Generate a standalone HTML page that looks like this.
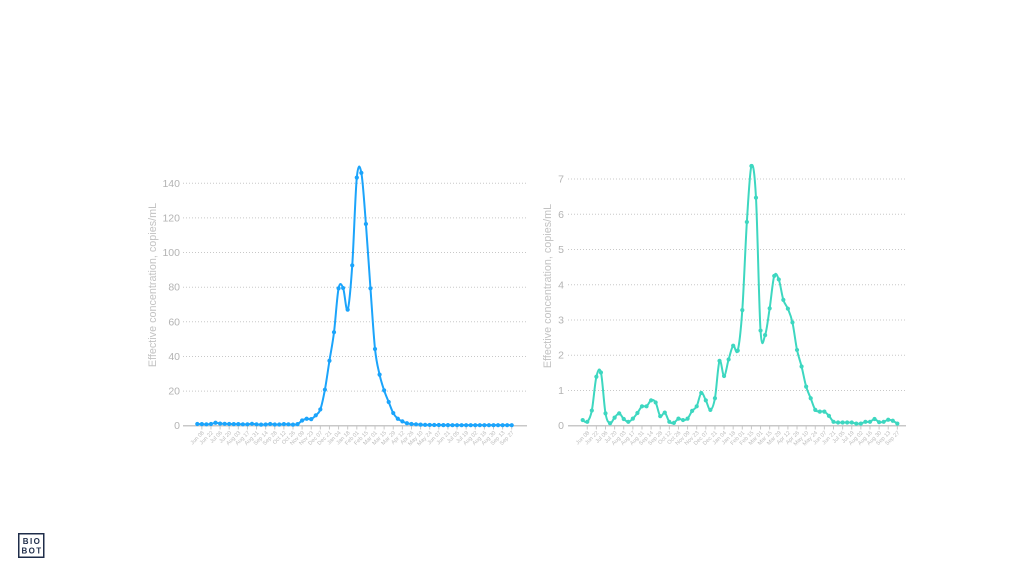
<!DOCTYPE html>
<html>
<head>
<meta charset="utf-8">
<style>
  html,body{margin:0;padding:0;background:#fff;}
  body{width:1024px;height:576px;overflow:hidden;}
  svg{display:block;}
  .yt{font-family:"Liberation Sans",sans-serif;font-size:10.5px;fill:#b3b3b3;text-anchor:end;}
  .ttl{font-family:"Liberation Sans",sans-serif;font-size:10.8px;fill:#c2c2c2;text-anchor:middle;}
  .dl text{font-family:"Liberation Sans",sans-serif;font-size:5.6px;fill:#bdbdbd;text-anchor:end;}
  .grid line{stroke:#c8c8c8;stroke-width:1;stroke-dasharray:1 2;}
  .logo{font-family:"Liberation Sans",sans-serif;font-weight:bold;font-size:8px;fill:#1f2d4a;text-anchor:middle;letter-spacing:1.4px;}
</style>
</head>
<body>
<svg id="s" width="1024" height="576" viewBox="0 0 1024 576" xmlns="http://www.w3.org/2000/svg">
  <!-- LEFT CHART -->
  <g class="grid">
    <line x1="183" x2="527" y1="391.07" y2="391.07"/>
    <line x1="183" x2="527" y1="356.44" y2="356.44"/>
    <line x1="183" x2="527" y1="321.81" y2="321.81"/>
    <line x1="183" x2="527" y1="287.19" y2="287.19"/>
    <line x1="183" x2="527" y1="252.56" y2="252.56"/>
    <line x1="183" x2="527" y1="217.93" y2="217.93"/>
    <line x1="183" x2="527" y1="183.3" y2="183.3"/>
  </g>
  <line x1="183" x2="527" y1="425.7" y2="425.7" stroke="#c8c8c8" stroke-width="1.5"/>
  <g id="tk1" stroke="#c8c8c8" stroke-width="1"></g>
  <text class="yt" x="180" y="429.2">0</text>
  <text class="yt" x="180" y="394.6">20</text>
  <text class="yt" x="180" y="360">40</text>
  <text class="yt" x="180" y="325.3">60</text>
  <text class="yt" x="180" y="290.7">80</text>
  <text class="yt" x="180" y="256.1">100</text>
  <text class="yt" x="180" y="221.4">120</text>
  <text class="yt" x="180" y="186.8">140</text>
  <text class="ttl" transform="translate(156,285) rotate(-90)">Effective concentration, copies/mL</text>
  <g class="dl" id="dl1">
    <text>Jun 08</text><text>Jun 22</text><text>Jul 06</text><text>Jul 20</text><text>Aug 03</text><text>Aug 17</text><text>Aug 31</text><text>Sep 14</text><text>Sep 28</text><text>Oct 12</text><text>Oct 26</text><text>Nov 09</text><text>Nov 23</text><text>Dec 07</text><text>Dec 21</text><text>Jan 04</text><text>Jan 18</text><text>Feb 01</text><text>Feb 15</text><text>Mar 01</text><text>Mar 15</text><text>Mar 29</text><text>Apr 12</text><text>Apr 26</text><text>May 10</text><text>May 24</text><text>Jun 07</text><text>Jun 21</text><text>Jul 05</text><text>Jul 19</text><text>Aug 02</text><text>Aug 16</text><text>Aug 30</text><text>Sep 13</text><text>Sep 27</text>
  </g>
  <path id="p1" fill="none" stroke="#1ba4fb" stroke-width="2" stroke-linejoin="round"/>
  <g id="m1" fill="#1ba4fb"></g>

  <!-- RIGHT CHART -->
  <g class="grid">
    <line x1="568" x2="906" y1="390.46" y2="390.46"/>
    <line x1="568" x2="906" y1="355.22" y2="355.22"/>
    <line x1="568" x2="906" y1="319.98" y2="319.98"/>
    <line x1="568" x2="906" y1="284.74" y2="284.74"/>
    <line x1="568" x2="906" y1="249.5" y2="249.5"/>
    <line x1="568" x2="906" y1="214.26" y2="214.26"/>
    <line x1="568" x2="906" y1="179.02" y2="179.02"/>
  </g>
  <line x1="568" x2="906" y1="425.7" y2="425.7" stroke="#c8c8c8" stroke-width="1.5"/>
  <g id="tk2" stroke="#c8c8c8" stroke-width="1"></g>
  <text class="yt" x="564" y="429.2">0</text>
  <text class="yt" x="564" y="394">1</text>
  <text class="yt" x="564" y="358.7">2</text>
  <text class="yt" x="564" y="323.5">3</text>
  <text class="yt" x="564" y="288.3">4</text>
  <text class="yt" x="564" y="253">5</text>
  <text class="yt" x="564" y="217.8">6</text>
  <text class="yt" x="564" y="182.6">7</text>
  <text class="ttl" transform="translate(551,286) rotate(-90)">Effective concentration, copies/mL</text>
  <g class="dl" id="dl2">
    <text>Jun 08</text><text>Jun 22</text><text>Jul 06</text><text>Jul 20</text><text>Aug 03</text><text>Aug 17</text><text>Aug 31</text><text>Sep 14</text><text>Sep 28</text><text>Oct 12</text><text>Oct 26</text><text>Nov 09</text><text>Nov 23</text><text>Dec 07</text><text>Dec 21</text><text>Jan 04</text><text>Jan 18</text><text>Feb 01</text><text>Feb 15</text><text>Mar 01</text><text>Mar 15</text><text>Mar 29</text><text>Apr 12</text><text>Apr 26</text><text>May 10</text><text>May 24</text><text>Jun 07</text><text>Jun 21</text><text>Jul 05</text><text>Jul 19</text><text>Aug 02</text><text>Aug 16</text><text>Aug 30</text><text>Sep 13</text><text>Sep 27</text>
  </g>
  <path id="p2" fill="none" stroke="#3dd7c0" stroke-width="2" stroke-linejoin="round"/>
  <g id="m2" fill="#3dd7c0"></g>

  <!-- LOGO -->
  <rect x="18.75" y="533.75" width="25" height="23.5" fill="none" stroke="#1f2d4a" stroke-width="1.5"/>
  <text class="logo" x="32" y="543.8">BIO</text>
  <text class="logo" x="32" y="553.3">BOT</text>
</svg>
<script>
(function(){
  var NS="http://www.w3.org/2000/svg";
  var L=[1.0,0.9,0.8,1.0,1.7,1.2,1.1,1.0,0.9,0.9,0.8,0.8,1.1,0.8,0.6,0.7,1.0,0.7,0.7,0.9,0.8,0.6,0.9,3.0,4.0,3.8,6.0,9.4,20.8,37.5,54,79.3,79.5,67,92.6,143.3,146,116.5,79.3,44.3,29.5,20.4,13.7,7.3,4.0,2.5,1.4,1.0,0.8,0.6,0.5,0.45,0.4,0.4,0.35,0.35,0.3,0.3,0.3,0.3,0.3,0.3,0.3,0.3,0.3,0.3,0.3,0.3,0.3,0.3];
  var R=[0.16,0.11,0.43,1.39,1.51,0.35,0.07,0.23,0.35,0.19,0.11,0.20,0.36,0.55,0.55,0.72,0.66,0.27,0.37,0.11,0.08,0.20,0.16,0.20,0.42,0.55,0.93,0.72,0.45,0.78,1.84,1.41,1.88,2.27,2.13,3.28,5.78,7.37,6.47,2.70,2.57,3.33,4.25,4.15,3.57,3.32,2.93,2.15,1.68,1.11,0.78,0.45,0.40,0.40,0.28,0.11,0.09,0.09,0.09,0.09,0.06,0.06,0.11,0.11,0.19,0.10,0.11,0.17,0.14,0.06];
  function build(data,x0,dx,y0,sy,pid,mid,tkid,dlid){
    var pts=data.map(function(v,i){return [x0+dx*i, y0-v*sy];});
    var n=pts.length, d="M"+pts[0][0].toFixed(2)+","+pts[0][1].toFixed(2);
    for(var i=0;i<n-1;i++){
      var p0=pts[Math.max(i-1,0)],p1=pts[i],p2=pts[i+1],p3=pts[Math.min(i+2,n-1)];
      var c1x=p1[0]+(p2[0]-p0[0])/6,c1y=p1[1]+(p2[1]-p0[1])/6;
      var c2x=p2[0]-(p3[0]-p1[0])/6,c2y=p2[1]-(p3[1]-p1[1])/6;
      d+="C"+c1x.toFixed(2)+","+c1y.toFixed(2)+" "+c2x.toFixed(2)+","+c2y.toFixed(2)+" "+p2[0].toFixed(2)+","+p2[1].toFixed(2);
    }
    document.getElementById(pid).setAttribute("d",d);
    var mg=document.getElementById(mid);
    pts.forEach(function(p){
      var c=document.createElementNS(NS,"circle");
      c.setAttribute("cx",p[0].toFixed(2));c.setAttribute("cy",p[1].toFixed(2));c.setAttribute("r","2.1");
      mg.appendChild(c);
    });
    var tg=document.getElementById(tkid);
    var labels=document.getElementById(dlid).getElementsByTagName("text");
    for(var k=0;k<labels.length;k++){
      var tx=x0+dx*(2*k+1);
      var l=document.createElementNS(NS,"line");
      l.setAttribute("x1",tx.toFixed(2));l.setAttribute("x2",tx.toFixed(2));
      l.setAttribute("y1","426.5");l.setAttribute("y2","429.5");
      tg.appendChild(l);
      labels[k].setAttribute("transform","translate("+(tx+2.5).toFixed(2)+",433) rotate(-45)");
    }
  }
  build(L,197.3,4.557,425.7,242.4/140,"p1","m1","tk1","dl1");
  build(R,582.7,4.56,425.7,35.24,"p2","m2","tk2","dl2");
})();
</script>
</body>
</html>
